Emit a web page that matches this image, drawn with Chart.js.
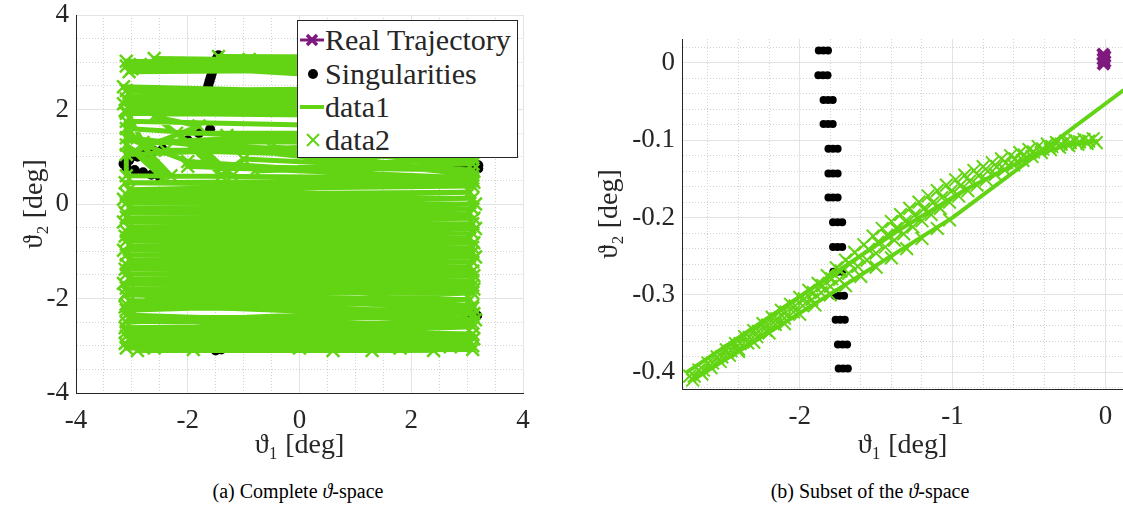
<!DOCTYPE html>
<html>
<head>
<meta charset="utf-8">
<script src="https://cdn.jsdelivr.net/npm/chart.js@4.4.0/dist/chart.umd.min.js"></script>
<style>
  body { margin: 0; background: #fff; width: 1123px; height: 515px; overflow: hidden; position: relative;
         font-family: 'Liberation Serif', 'DejaVu Serif', serif; color: #262626; }
  .panel { position: absolute; top: 0; }
  #legend { position: absolute; left: 297px; top: 20px; width: 219px; height: 136px;
            border: 1px solid #262626; background: #fff; }
  .row { position: absolute; left: 2px; height: 30px; display: flex; align-items: center; font-size: 30px; white-space: nowrap; }
  .row svg { width: 24px; height: 24px; margin-right: 1px; }
  .cap { position: absolute; top: 480px; width: 560px; text-align: center; font-size: 20px; color: #000; }
</style>
</head>
<body>
<div class="panel" style="left:0"><canvas id="left" width="560" height="470"></canvas></div>
<div class="panel" style="left:560px"><canvas id="right" width="563" height="470"></canvas></div>

<div id="legend">
  <div class="row" style="top:4px"><svg viewBox="0 0 24 24"><line x1="0" y1="12" x2="24" y2="12" stroke="#7e1a7e" stroke-width="3"/><path d="M7 7 L17 17 M17 7 L7 17" stroke="#7e1a7e" stroke-width="3.5"/></svg>Real Trajectory</div>
  <div class="row" style="top:38px"><svg viewBox="0 0 24 24"><circle cx="13" cy="12" r="5" fill="#000"/></svg>Singularities</div>
  <div class="row" style="top:71px"><svg viewBox="0 0 24 24"><line x1="0" y1="12" x2="24" y2="12" stroke="#63d414" stroke-width="4"/></svg>data1</div>
  <div class="row" style="top:104px"><svg viewBox="0 0 24 24"><path d="M7 6 L19 18 M19 6 L7 18" stroke="#63d414" stroke-width="2"/></svg>data2</div>
</div>

<div class="cap" style="left:18px">(a) Complete <i>ϑ</i>-space</div>
<div class="cap" style="left:590px">(b) Subset of the <i>ϑ</i>-space</div>

<script>
const green = '#63d414';
const purple = '#7e1a7e';
const fontFamily = "'Liberation Serif', 'DejaVu Serif', serif";

// tick labels
const leftTicks = [-4, -2, 0, 2, 4];
const rightXTicks = [-2, -1, 0];
const rightYTicks = [0, -0.1, -0.2, -0.3, -0.4];

// (a) complete space: trajectory vertices [theta1, theta2]
const leftTraj = [
  [-3.10, 2.92], [3.10, 3.00], [-2.60, 3.08], [3.05, 2.85], [-3.05, 2.80], [3.10, 3.10],
  [-1.45, 3.12], [3.10, 2.90], [-3.10, 3.02], [2.90, 2.78], [-2.20, 2.98], [3.10, 2.95],
  [-3.00, 2.86], [-0.90, 3.06], [-2.85, 2.95], [0.50, 2.72],
  [3.10, 2.45], [-3.10, 2.40], [3.05, 2.30], [-3.15, 2.48], [3.10, 2.20], [-3.05, 2.32],
  [3.10, 2.12], [-3.10, 2.22], [3.00, 2.02], [-3.15, 2.12], [3.10, 1.95], [-3.05, 2.02],
  [3.10, 1.88], [-3.10, 1.92], [3.05, 1.85], [-3.05, 2.36], [3.10, 2.40], [-3.12, 1.98],
  [-3.10, 1.95], [-2.45, 0.55], [-3.10, 1.25], [-2.30, 0.60], [-3.10, 1.60], [3.00, 1.15],
  [-2.40, 1.14], [3.10, 0.95], [-1.30, 1.45], [1.00, 1.50], [-2.20, 1.50], [-1.40, 0.60],
  [-1.00, 0.95], [3.10, 0.72], [-2.00, 0.80], [3.10, 0.55], [-3.10, 0.60],
  [-3.10, 1.75], [3.10, 1.60], [-2.80, 1.30], [3.10, 1.35], [-3.10, 1.05], [-1.80, 1.65],
  [-2.60, 1.85], [-1.20, 0.60], [-1.80, 1.25], [3.10, 1.00], [-0.80, 0.70], [3.10, 0.85],
  [-0.50, 1.20], [3.10, 0.62], [-3.10, 1.40], [-2.00, 0.90], [3.10, 0.50],
  [-3.12, 0.45], [3.10, 0.38], [-3.05, 0.30], [3.12, 0.46], [-3.10, 0.20], [3.05, 0.25],
  [-3.15, 0.10], [3.10, 0.12], [-3.10, 0.02], [3.15, 0.00], [-3.05, -0.08], [3.10, -0.10],
  [-3.12, -0.18], [3.05, -0.20], [-3.10, -0.28], [3.12, -0.30], [-3.15, -0.38], [3.10, -0.42],
  [-3.05, -0.48], [3.15, -0.52], [-3.10, -0.58], [3.10, -0.62], [-3.12, -0.68], [3.05, -0.72],
  [-3.10, -0.78], [3.12, -0.82], [-3.05, -0.88], [3.10, -0.92], [-3.15, -0.98], [3.10, -1.02],
  [-3.10, -1.08], [3.15, -1.12], [-3.05, -1.18], [3.10, -1.22], [-3.10, -1.28], [3.05, -1.32],
  [-3.12, -1.38], [3.10, -1.42], [-3.10, -1.48], [3.12, -1.52], [-3.05, -1.58], [3.10, -1.62],
  [-3.15, -1.68], [3.10, -1.72], [-3.10, -1.78], [3.12, -1.80], [-3.08, -1.86],
  [3.10, -1.88], [-3.10, -2.25], [3.05, -2.02], [-3.12, -1.92], [3.10, -2.15], [-3.05, -2.05],
  [3.12, -2.32], [-3.10, -2.50], [3.10, -2.20], [-2.70, -1.95], [3.15, -2.45], [-3.10, -2.70],
  [2.20, -2.75], [-3.10, -2.35], [3.10, -2.60], [-3.05, -2.85], [3.10, -2.52], [-3.12, -2.62],
  [3.10, -2.75], [-3.12, -2.95], [3.05, -2.90], [-2.60, -3.05], [3.10, -3.00], [-3.10, -3.05],
  [0.60, -3.10], [-2.20, -3.00], [3.10, -3.08], [-2.90, -3.10], [1.80, -3.05], [-1.90, -3.08],
  [2.40, -3.10], [0.00, -3.05], [2.70, -3.02], [1.30, -3.10], [-3.10, -2.80], [3.12, -2.85],
  [-3.05, -2.40], [2.90, -2.40], [-3.10, -2.12], [3.05, -2.28], [-3.12, -2.18]
];
const leftSing = [
  [-1.45, 3.15], [-1.48, 3.08], [-1.50, 3.00], [-1.53, 2.92], [-1.55, 2.84], [-1.57, 2.76],
  [-1.59, 2.68], [-1.61, 2.60], [-1.63, 2.52], [-1.65, 2.44], [-1.67, 2.36],
  [-2.50, 0.57], [-2.65, 0.62], [-2.80, 0.67], [-2.95, 0.72], [-3.10, 0.78], [-3.15, 0.85],
  [-3.05, 0.92], [-2.90, 1.00], [-2.75, 1.07], [-2.60, 1.12], [-2.45, 1.16], [-2.00, 1.35],
  [-1.80, 1.50], [-1.60, 1.58],
  [2.40, 0.93], [2.60, 0.90], [2.80, 0.86], [2.95, 0.85], [3.10, 0.84], [3.20, 0.82], [3.20, 0.75],
  [2.90, -2.28], [3.00, -2.30], [3.10, -2.32], [3.18, -2.36],
  [-1.50, -3.10], [-1.40, -3.08], [-1.30, -3.02], [-1.15, -2.95],
  [-1.00, -2.60], [-0.80, -2.58], [-0.60, -2.55], [0.20, -2.40], [0.40, -2.42], [0.60, -2.45]
];
const leftReal = [[-0.01, 0.01], [0.00, 0.005], [-0.01, 0.00]];

// (b) subset: estimated line (null splits segments)
const rightLine = [
  [-2.70, -0.410], [-1.00, -0.200], [0.12, -0.035], null,
  [-2.74, -0.400], [-1.35, -0.216], [-0.90, -0.162], [-0.50, -0.122], [-0.25, -0.106], [-0.05, -0.101]
];
const rightMarksUpper = [
  [-2.72, -0.405], [-2.66, -0.397], [-2.60, -0.388], [-2.54, -0.380], [-2.48, -0.371], [-2.42, -0.363],
  [-2.36, -0.354], [-2.30, -0.346], [-2.24, -0.337], [-2.18, -0.329], [-2.12, -0.320], [-2.06, -0.312],
  [-2.00, -0.303], [-1.94, -0.294], [-1.88, -0.285], [-1.82, -0.275], [-1.76, -0.265], [-1.70, -0.255],
  [-1.64, -0.245], [-1.58, -0.235], [-1.52, -0.224], [-1.46, -0.214], [-1.40, -0.205], [-1.34, -0.196],
  [-1.28, -0.188], [-1.22, -0.180], [-1.16, -0.172], [-1.10, -0.165], [-1.04, -0.158], [-0.98, -0.151],
  [-0.92, -0.145], [-0.86, -0.139], [-0.80, -0.134], [-0.74, -0.129], [-0.68, -0.124], [-0.62, -0.120],
  [-0.56, -0.116], [-0.50, -0.112], [-0.44, -0.108], [-0.38, -0.105], [-0.32, -0.103], [-0.26, -0.101],
  [-0.20, -0.100], [-0.14, -0.099], [-0.08, -0.098]
];
const rightMarksBetween = [
  [-2.69, -0.405], [-2.63, -0.397], [-2.57, -0.388], [-2.51, -0.380], [-2.45, -0.372], [-2.39, -0.363],
  [-2.33, -0.355], [-2.27, -0.347], [-2.21, -0.339], [-2.15, -0.331], [-2.09, -0.322], [-2.03, -0.314],
  [-1.97, -0.305], [-1.91, -0.297], [-1.85, -0.288], [-1.79, -0.279], [-1.73, -0.269], [-1.67, -0.260],
  [-1.61, -0.251], [-1.55, -0.241], [-1.49, -0.232], [-1.43, -0.223], [-1.37, -0.214], [-1.31, -0.205],
  [-1.25, -0.197], [-1.19, -0.189], [-1.13, -0.181], [-1.07, -0.174], [-1.01, -0.166], [-0.95, -0.159],
  [-0.89, -0.153], [-0.83, -0.146], [-0.77, -0.140], [-0.71, -0.134], [-0.65, -0.129], [-0.59, -0.124],
  [-0.53, -0.119], [-0.47, -0.115], [-0.41, -0.111], [-0.35, -0.108], [-0.29, -0.105], [-0.23, -0.103],
  [-0.17, -0.102], [-0.11, -0.101]
];
const rightMarksMid = [
  [-2.70, -0.410], [-2.64, -0.402], [-2.58, -0.394], [-2.52, -0.386], [-2.46, -0.378], [-2.40, -0.370],
  [-2.34, -0.362], [-2.28, -0.354], [-2.22, -0.346], [-2.16, -0.338], [-2.10, -0.330], [-2.04, -0.322],
  [-1.98, -0.314], [-1.92, -0.306], [-1.86, -0.297], [-1.80, -0.289], [-1.74, -0.280], [-1.68, -0.272],
  [-1.62, -0.263], [-1.56, -0.255], [-1.50, -0.246], [-1.44, -0.238], [-1.38, -0.229], [-1.32, -0.221],
  [-1.26, -0.212], [-1.20, -0.204], [-1.14, -0.196], [-1.08, -0.188], [-1.02, -0.180], [-0.96, -0.172],
  [-0.90, -0.165], [-0.84, -0.158], [-0.78, -0.151], [-0.72, -0.144], [-0.66, -0.138], [-0.60, -0.132],
  [-0.54, -0.126], [-0.48, -0.121], [-0.42, -0.116], [-0.36, -0.112], [-0.30, -0.109], [-0.24, -0.107],
  [-0.18, -0.105], [-0.12, -0.104], [-0.06, -0.103]
];
const rightMarksLow = [
  [-2.40, -0.373], [-2.30, -0.361], [-2.20, -0.349], [-2.10, -0.337], [-2.00, -0.325], [-1.90, -0.313],
  [-1.80, -0.300], [-1.70, -0.288], [-1.60, -0.276], [-1.50, -0.264], [-1.40, -0.252], [-1.30, -0.240],
  [-1.20, -0.227], [-1.10, -0.214], [-1.02, -0.203]
];
const rightSing = [
  [-1.875, 0.016], [-1.845, 0.016], [-1.815, 0.016],
  [-1.878, -0.016], [-1.848, -0.016], [-1.818, -0.016],
  [-1.844, -0.048], [-1.814, -0.048], [-1.784, -0.048],
  [-1.844, -0.079], [-1.814, -0.079], [-1.784, -0.079],
  [-1.812, -0.111], [-1.782, -0.111], [-1.752, -0.111],
  [-1.812, -0.143], [-1.782, -0.143], [-1.752, -0.143],
  [-1.812, -0.174], [-1.782, -0.174], [-1.752, -0.174],
  [-1.782, -0.206], [-1.752, -0.206], [-1.722, -0.206],
  [-1.782, -0.238], [-1.752, -0.238], [-1.722, -0.238],
  [-1.780, -0.270], [-1.750, -0.270], [-1.720, -0.270],
  [-1.770, -0.301], [-1.740, -0.301], [-1.710, -0.301],
  [-1.765, -0.332], [-1.735, -0.332], [-1.705, -0.332],
  [-1.750, -0.364], [-1.720, -0.364], [-1.690, -0.364],
  [-1.745, -0.395], [-1.715, -0.395], [-1.685, -0.395]
];
const rightReal = [[-0.014, 0.011], [-0.006, 0.008], [-0.013, 0.005], [-0.006, 0.002], [-0.012, -0.001]];

function pts(arr) {
  return arr.map(p => p ? { x: p[0], y: p[1] } : { x: null, y: null });
}

function isMajor(v, majors) {
  return majors.some(m => Math.abs(m - v) < 1e-6);
}

// one axis, minor grid dotted, labels only on majors
function axis(min, max, step, majors, size, titleText, titlePad, isX) {
  return {
    type: 'linear', min: min, max: max,
    afterBuildTicks: s => {
      const t = [];
      for (let i = Math.ceil(min / step - 1e-9); i * step <= max + 1e-9; i++) {
        t.push({ value: Math.round(i * step * 1000) / 1000 });
      }
      s.ticks = t;
    },
    afterFit: s => {
      if (isX) { s.height = size; s.paddingLeft = 0; s.paddingRight = 0; }
      else { s.width = size; s.paddingTop = 0; s.paddingBottom = 0; }
    },
    ticks: {
      autoSkip: false, maxRotation: 0, minRotation: 0,
      padding: isX ? 12 : 7, color: '#262626',
      font: { family: fontFamily, size: 27 },
      callback: v => isMajor(v, majors) ? String(Math.round(v * 1000) / 1000) : ''
    },
    grid: {
      drawTicks: false, lineWidth: 1,
      color: c => (c.tick && isMajor(c.tick.value, majors)) ? '#e3e3e3' : '#d2d2d2'
    },
    border: {
      color: '#262626', width: 1,
      dash: c => (c.tick && !isMajor(c.tick.value, majors)) ? [1, 2] : []
    },
    title: {
      display: true, text: titleText, color: '#262626',
      font: { family: fontFamily, size: 28 },
      padding: isX ? { top: 0, bottom: titlePad } : { top: titlePad, bottom: 0 }
    }
  };
}

function makeChart(id, datasets, x, y, padding) {
  return new Chart(document.getElementById(id), {
    type: 'scatter',
    data: { datasets: datasets },
    options: {
      responsive: false, animation: false, events: [],
      layout: { padding: padding, autoPadding: false },
      plugins: { legend: { display: false }, tooltip: { enabled: false } },
      scales: { x: x, y: y }
    }
  });
}

const charts = [];

// datasets listed in legend order, order field puts green on top
charts.push(makeChart('left', [
  { label: 'Real Trajectory', data: pts(leftReal), showLine: true, borderColor: purple, borderWidth: 3,
    pointStyle: 'crossRot', pointRadius: 7, order: 3 },
  { label: 'Singularities', data: pts(leftSing), backgroundColor: '#000', borderWidth: 0,
    pointStyle: 'circle', pointRadius: 5, order: 2 },
  { label: 'data1', data: pts(leftTraj), showLine: true, borderColor: green, borderWidth: 5,
    borderJoinStyle: 'round', pointRadius: 0, order: 1 },
  { label: 'data2', data: pts(leftTraj), borderColor: green, borderWidth: 2.5,
    pointStyle: 'crossRot', pointRadius: 9, order: 0 }
],
  axis(-4, 4, 0.5, leftTicks, 77, 'ϑ₁ [deg]', 8, true),
  axis(-4, 4, 0.5, leftTicks, 76, 'ϑ₂ [deg]', 18, false),
  { top: 15, right: 37, left: 0, bottom: 0 }));

charts.push(makeChart('right', [
  { label: 'Real Trajectory', data: pts(rightReal), showLine: true, borderColor: purple, borderWidth: 4,
    pointStyle: 'crossRot', pointRadius: 8, pointBorderWidth: 4, order: 3 },
  { label: 'Singularities', data: pts(rightSing), backgroundColor: '#000', borderWidth: 0,
    pointStyle: 'circle', pointRadius: 4, order: 2 },
  { label: 'data1', data: pts(rightLine), showLine: true, borderColor: green, borderWidth: 4,
    borderJoinStyle: 'round', pointRadius: 0, order: 1 },
  { label: 'data2', data: pts(rightMarksUpper.concat(rightMarksBetween, rightMarksMid, rightMarksLow)),
    borderColor: green, borderWidth: 2, pointStyle: 'crossRot', pointRadius: 9, order: 0 }
],
  axis(-2.77, 0.115, 0.2, rightXTicks, 81, 'ϑ₁ [deg]', 8, true),
  axis(-0.4216, 0.031, 0.02, rightYTicks, 122, 'ϑ₂ [deg]', 33, false),
  { top: 39, right: 0, left: 0, bottom: 0 }));

// redraw once the serif face is ready so canvas text does not stay on a fallback
if (document.fonts && document.fonts.load) {
  Promise.all([
    document.fonts.load('27px "Liberation Serif"', 'ϑ₁ [deg] -0.1234'),
    document.fonts.load('italic 20px "Liberation Serif"', 'ϑ')
  ]).then(() => charts.forEach(c => c.update()), () => {});
}
</script>
</body>
</html>
